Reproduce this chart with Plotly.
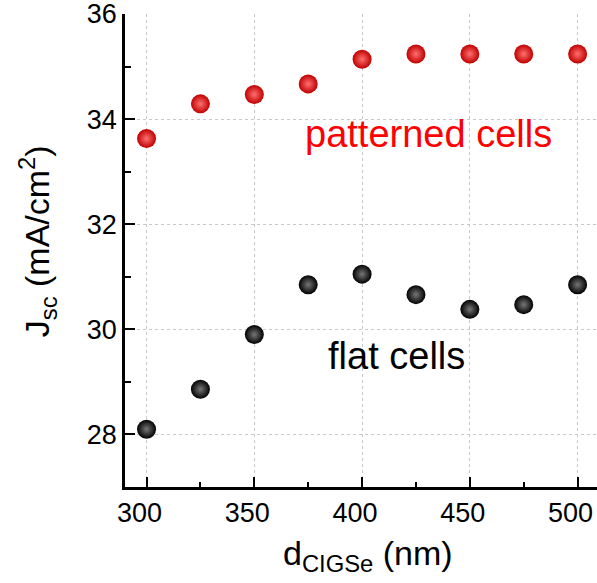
import plotly.graph_objects as go

d_nm = [300, 325, 350, 375, 400, 425, 450, 475, 500]
jsc_patterned = [33.63, 34.29, 34.47, 34.67, 35.14, 35.24, 35.24, 35.24, 35.24]
jsc_flat = [28.10, 28.86, 29.90, 30.85, 31.05, 30.66, 30.38, 30.47, 30.85]
x_ticks = [300, 350, 400, 450, 500]
y_ticks = [28, 30, 32, 34, 36]

FONT = "Liberation Sans, Arial, sans-serif"

fig = go.Figure()
fig.add_trace(go.Scatter(
    x=d_nm, y=jsc_patterned, mode="markers", name="patterned cells",
    marker=dict(size=19, color="#c00000", line=dict(width=0),
                gradient=dict(type="radial", color="#ff7070")),
))
fig.add_trace(go.Scatter(
    x=d_nm, y=jsc_flat, mode="markers", name="flat cells",
    marker=dict(size=19, color="#000000", line=dict(width=0),
                gradient=dict(type="radial", color="#777777")),
))

fig.add_annotation(x=431, y=33.71, xref="x", yref="y", text="patterned cells",
                   showarrow=False, font=dict(family=FONT, size=38, color="#ff0000"))
fig.add_annotation(x=416, y=29.5, xref="x", yref="y", text="flat cells",
                   showarrow=False, font=dict(family=FONT, size=38, color="#000000"))

# axis titles
fig.add_annotation(x=-0.186, y=0.52, xref="paper", yref="paper", textangle=-90,
                   text="J<sub>sc</sub> (mA/cm<sup>2</sup>)", showarrow=False,
                   xanchor="center", yanchor="middle",
                   font=dict(family=FONT, size=34, color="black"))
fig.add_annotation(x=0.515, y=-0.145, xref="paper", yref="paper",
                   text="d<sub>CIGSe</sub> (nm)", showarrow=False,
                   xanchor="center", yanchor="middle",
                   font=dict(family=FONT, size=34, color="black"))

axis_common = dict(
    showline=True, linecolor="black", linewidth=2.5, mirror=False,
    ticks="inside", ticklen=10, tickwidth=2, tickcolor="black",
    showgrid=True, gridcolor="#c8c8c8", griddash="dot", gridwidth=1,
    zeroline=False, tickfont=dict(family=FONT, size=27, color="black"),
    automargin=False, ticklabeloverflow="allow",
)

fig.update_xaxes(
    range=[290, 509], tickvals=x_ticks, ticklabelshift=-7,
    minor=dict(ticks="inside", ticklen=5, tickwidth=2, tickcolor="black",
               dtick=25, tick0=300, showgrid=False),
    **axis_common,
)
fig.update_yaxes(
    range=[27, 36], tickvals=y_ticks,
    minor=dict(ticks="inside", ticklen=6, tickwidth=2, tickcolor="black",
               dtick=1, tick0=27, showgrid=False),
    **axis_common,
)

fig.update_layout(
    width=597, height=583,
    margin=dict(l=125, r=0, t=14, b=96),
    plot_bgcolor="white", paper_bgcolor="white",
    showlegend=False,
)

fig.write_html("out.html", config={"displayModeBar": False},
               post_script="document.body.style.margin='0';document.body.style.overflow='hidden';")
